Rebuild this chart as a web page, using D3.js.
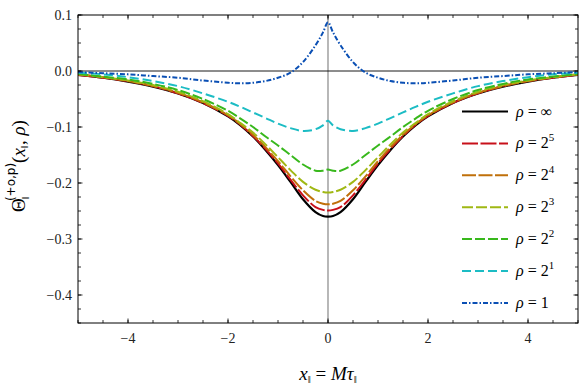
<!DOCTYPE html>
<html>
<head>
<meta charset="utf-8">
<script src="https://cdn.jsdelivr.net/npm/d3@7"></script>
<style>
  body { margin: 0; background: #fff; }
</style>
</head>
<body>
<div id="chart"></div>
<script>
// data
let xs = [-5,-4.5,-4,-3.5,-3,-2.5,-2,-1.75,-1.5,-1.25,-1,-0.75,-0.5,-0.25,-0.1,0,0.1,0.25,0.5,0.75,1,1.25,1.5,1.75,2,2.5,3,3.5,4,4.5,5];

let rhoInf = [-0.007,-0.012,-0.019,-0.028,-0.040,-0.057,-0.081,-0.097,-0.117,-0.141,-0.168,-0.198,-0.229,-0.252,-0.259,-0.26,-0.259,-0.252,-0.229,-0.198,-0.168,-0.141,-0.117,-0.097,-0.081,-0.057,-0.040,-0.028,-0.019,-0.012,-0.007];
let rho32 = [-0.007,-0.012,-0.018,-0.027,-0.040,-0.057,-0.080,-0.096,-0.116,-0.139,-0.165,-0.194,-0.222,-0.243,-0.248,-0.249,-0.248,-0.243,-0.222,-0.194,-0.165,-0.139,-0.116,-0.096,-0.080,-0.057,-0.040,-0.027,-0.018,-0.012,-0.007];
let rho16 = [-0.006,-0.011,-0.018,-0.027,-0.039,-0.056,-0.079,-0.095,-0.114,-0.136,-0.161,-0.188,-0.213,-0.232,-0.237,-0.238,-0.237,-0.232,-0.213,-0.188,-0.161,-0.136,-0.114,-0.095,-0.079,-0.056,-0.039,-0.027,-0.018,-0.011,-0.006];
let rho8 = [-0.006,-0.011,-0.017,-0.025,-0.037,-0.054,-0.077,-0.093,-0.110,-0.131,-0.154,-0.177,-0.198,-0.212,-0.216,-0.217,-0.216,-0.212,-0.198,-0.177,-0.154,-0.131,-0.110,-0.093,-0.077,-0.054,-0.037,-0.025,-0.017,-0.011,-0.006];
let rho4 = [-0.005,-0.010,-0.015,-0.023,-0.034,-0.050,-0.071,-0.085,-0.100,-0.117,-0.133,-0.150,-0.167,-0.178,-0.178,-0.176,-0.178,-0.178,-0.167,-0.150,-0.133,-0.117,-0.100,-0.085,-0.071,-0.050,-0.034,-0.023,-0.015,-0.010,-0.005];
let rho2 = [-0.003,-0.006,-0.011,-0.018,-0.027,-0.040,-0.055,-0.064,-0.074,-0.084,-0.094,-0.102,-0.107,-0.104,-0.097,-0.089,-0.097,-0.104,-0.107,-0.102,-0.094,-0.084,-0.074,-0.064,-0.055,-0.040,-0.027,-0.018,-0.011,-0.006,-0.003];
let rho1 = [-0.002,-0.004,-0.006,-0.009,-0.012,-0.017,-0.021,-0.022,-0.021,-0.018,-0.012,-0.003,0.016,0.046,0.069,0.087,0.069,0.046,0.016,-0.003,-0.012,-0.018,-0.021,-0.022,-0.021,-0.017,-0.012,-0.009,-0.006,-0.004,-0.002];

let seriesValues = [rhoInf, rho32, rho16, rho8, rho4, rho2, rho1];
let legendBase = ['∞', '2', '2', '2', '2', '2', '1'];
let legendExp = [null, '5', '4', '3', '2', '1', null];

let xTicks = [-4, -2, 0, 2, 4];
let yTicks = [0.1, 0.0, -0.1, -0.2, -0.3, -0.4];

// styles
let colors = ['#000000', '#c8101a', '#c0700a', '#a0b814', '#38b81c', '#1cbcc4', '#0a4fb4'];
let dashes = [null, '16,2.5', '14,2.5', '11,3', '10,3', '9,4', '5,2,1.5,2'];
let serif = '"Liberation Serif", "DejaVu Serif", serif';

let svgWidth = 581;
let svgHeight = 386;
let margin = { top: 15, right: 3, bottom: 63, left: 78 };
let width = svgWidth - margin.left - margin.right;
let height = svgHeight - margin.top - margin.bottom;

let svg = d3.select('#chart').append('svg')
    .attr('width', svgWidth).attr('height', svgHeight)
    .style('font-family', serif);

let g = svg.append('g').attr('transform', `translate(${margin.left}, ${margin.top})`);

let x = d3.scaleLinear().domain([-5, 5]).range([0, width]);
let y = d3.scaleLinear().domain([-0.45, 0.1]).range([height, 0]);

g.append('clipPath').attr('id', 'clip')
    .append('rect').attr('width', width).attr('height', height);

// reference lines
g.append('line')
    .attr('x1', x(0)).attr('x2', x(0)).attr('y1', 0).attr('y2', height)
    .attr('stroke', '#888').attr('stroke-width', 1.2);
g.append('line')
    .attr('x1', 0).attr('x2', width).attr('y1', y(0)).attr('y2', y(0))
    .attr('stroke', '#000').attr('stroke-width', 0.9);

// curves
let line = d3.line()
    .x((d, i) => x(xs[i]))
    .y(d => y(d))
    .curve(d3.curveCatmullRom.alpha(0.5));

let curves = g.append('g').attr('clip-path', 'url(#clip)');
seriesValues.forEach(function(vals, i) {
    curves.append('path')
        .attr('d', line(vals))
        .attr('fill', 'none')
        .attr('stroke', colors[i])
        .attr('stroke-width', i === 0 ? 2.2 : 2)
        .attr('stroke-dasharray', dashes[i]);
});

// axes with inward ticks on every side
let tickSize = 4.5, minorSize = 3;
let xMinor = d3.range(-5, 5.01, 0.5);
let yMinor = d3.range(-0.45, 0.1001, 0.025);

function drawTicks(sel, orient) {
    let major = orient === 'x' ? xTicks : yTicks;
    let minor = orient === 'x' ? xMinor : yMinor;
    let all = minor.map(v => ({ v: v, len: minorSize }))
        .concat(major.map(v => ({ v: v, len: tickSize })));
    all.forEach(function(t) {
        if (orient === 'x') {
            let px = x(t.v);
            sel.append('line').attr('x1', px).attr('x2', px).attr('y1', height).attr('y2', height - t.len);
            sel.append('line').attr('x1', px).attr('x2', px).attr('y1', 0).attr('y2', t.len);
        } else {
            let py = y(t.v);
            sel.append('line').attr('y1', py).attr('y2', py).attr('x1', 0).attr('x2', t.len);
            sel.append('line').attr('y1', py).attr('y2', py).attr('x1', width).attr('x2', width - t.len);
        }
    });
}
let tickGroup = g.append('g').attr('stroke', '#000').attr('stroke-width', 0.8);
drawTicks(tickGroup, 'x');
drawTicks(tickGroup, 'y');

g.append('rect')
    .attr('width', width).attr('height', height)
    .attr('fill', 'none').attr('stroke', '#000').attr('stroke-width', 1);

let fmtMinus = s => s.replace('-', '\u2212');

g.selectAll('.xlab').data(xTicks).enter().append('text')
    .attr('x', d => x(d)).attr('y', height + 20)
    .attr('text-anchor', 'middle').attr('font-size', 14).attr('fill', '#222')
    .text(d => fmtMinus(String(d)));

g.selectAll('.ylab').data(yTicks).enter().append('text')
    .attr('x', -6).attr('y', d => y(d) + 4.5)
    .attr('text-anchor', 'end').attr('font-size', 14).attr('fill', '#222')
    .text(d => fmtMinus(d.toFixed(1)));

// x axis title
let xt = svg.append('text')
    .attr('x', margin.left + x(0)).attr('y', 380)
    .attr('text-anchor', 'middle').attr('font-size', 19);
xt.append('tspan').attr('font-style', 'italic').text('x');
xt.append('tspan').attr('font-size', 11).attr('dy', 3).text('\u2016');
xt.append('tspan').attr('dy', -3).text(' = ');
xt.append('tspan').attr('font-style', 'italic').text('M\u03c4');
xt.append('tspan').attr('font-size', 11).attr('dy', 3).text('\u2016');

// y axis title
let yt = svg.append('text')
    .attr('transform', 'translate(25, 166) rotate(-90)')
    .attr('text-anchor', 'middle').attr('font-size', 19);
yt.append('tspan').text('\u0398');
yt.append('tspan').attr('font-size', 11).attr('dy', 4).attr('dx', -1).text('\u2016');
yt.append('tspan').attr('font-size', 12).attr('dy', -14).attr('dx', -5)
    .style('font-family', 'DejaVu Sans').text('(+o,p)');
yt.append('tspan').attr('dy', 10).text('(');
yt.append('tspan').attr('font-style', 'italic').text('x');
yt.append('tspan').attr('font-size', 11).attr('dy', 3).text('\u2016');
yt.append('tspan').attr('dy', -3).text(', ');
yt.append('tspan').attr('font-style', 'italic').text('\u03c1');
yt.append('tspan').text(')');

// legend
let legend = svg.append('g');
seriesValues.forEach(function(vals, i) {
    let ly = 111.5 + i * 31.9;
    legend.append('line')
        .attr('x1', 462).attr('x2', 508).attr('y1', ly).attr('y2', ly)
        .attr('stroke', colors[i]).attr('stroke-width', i === 0 ? 2.2 : 2)
        .attr('stroke-dasharray', dashes[i]);
    let t = legend.append('text').attr('x', 516).attr('y', ly + 5).attr('font-size', 16);
    t.append('tspan').attr('font-style', 'italic').text('\u03c1');
    t.append('tspan').text(' = ' + legendBase[i]);
    if (legendExp[i]) {
        t.append('tspan').attr('font-size', 11).attr('dy', -7).text(legendExp[i]);
    }
});
</script>
</body>
</html>
